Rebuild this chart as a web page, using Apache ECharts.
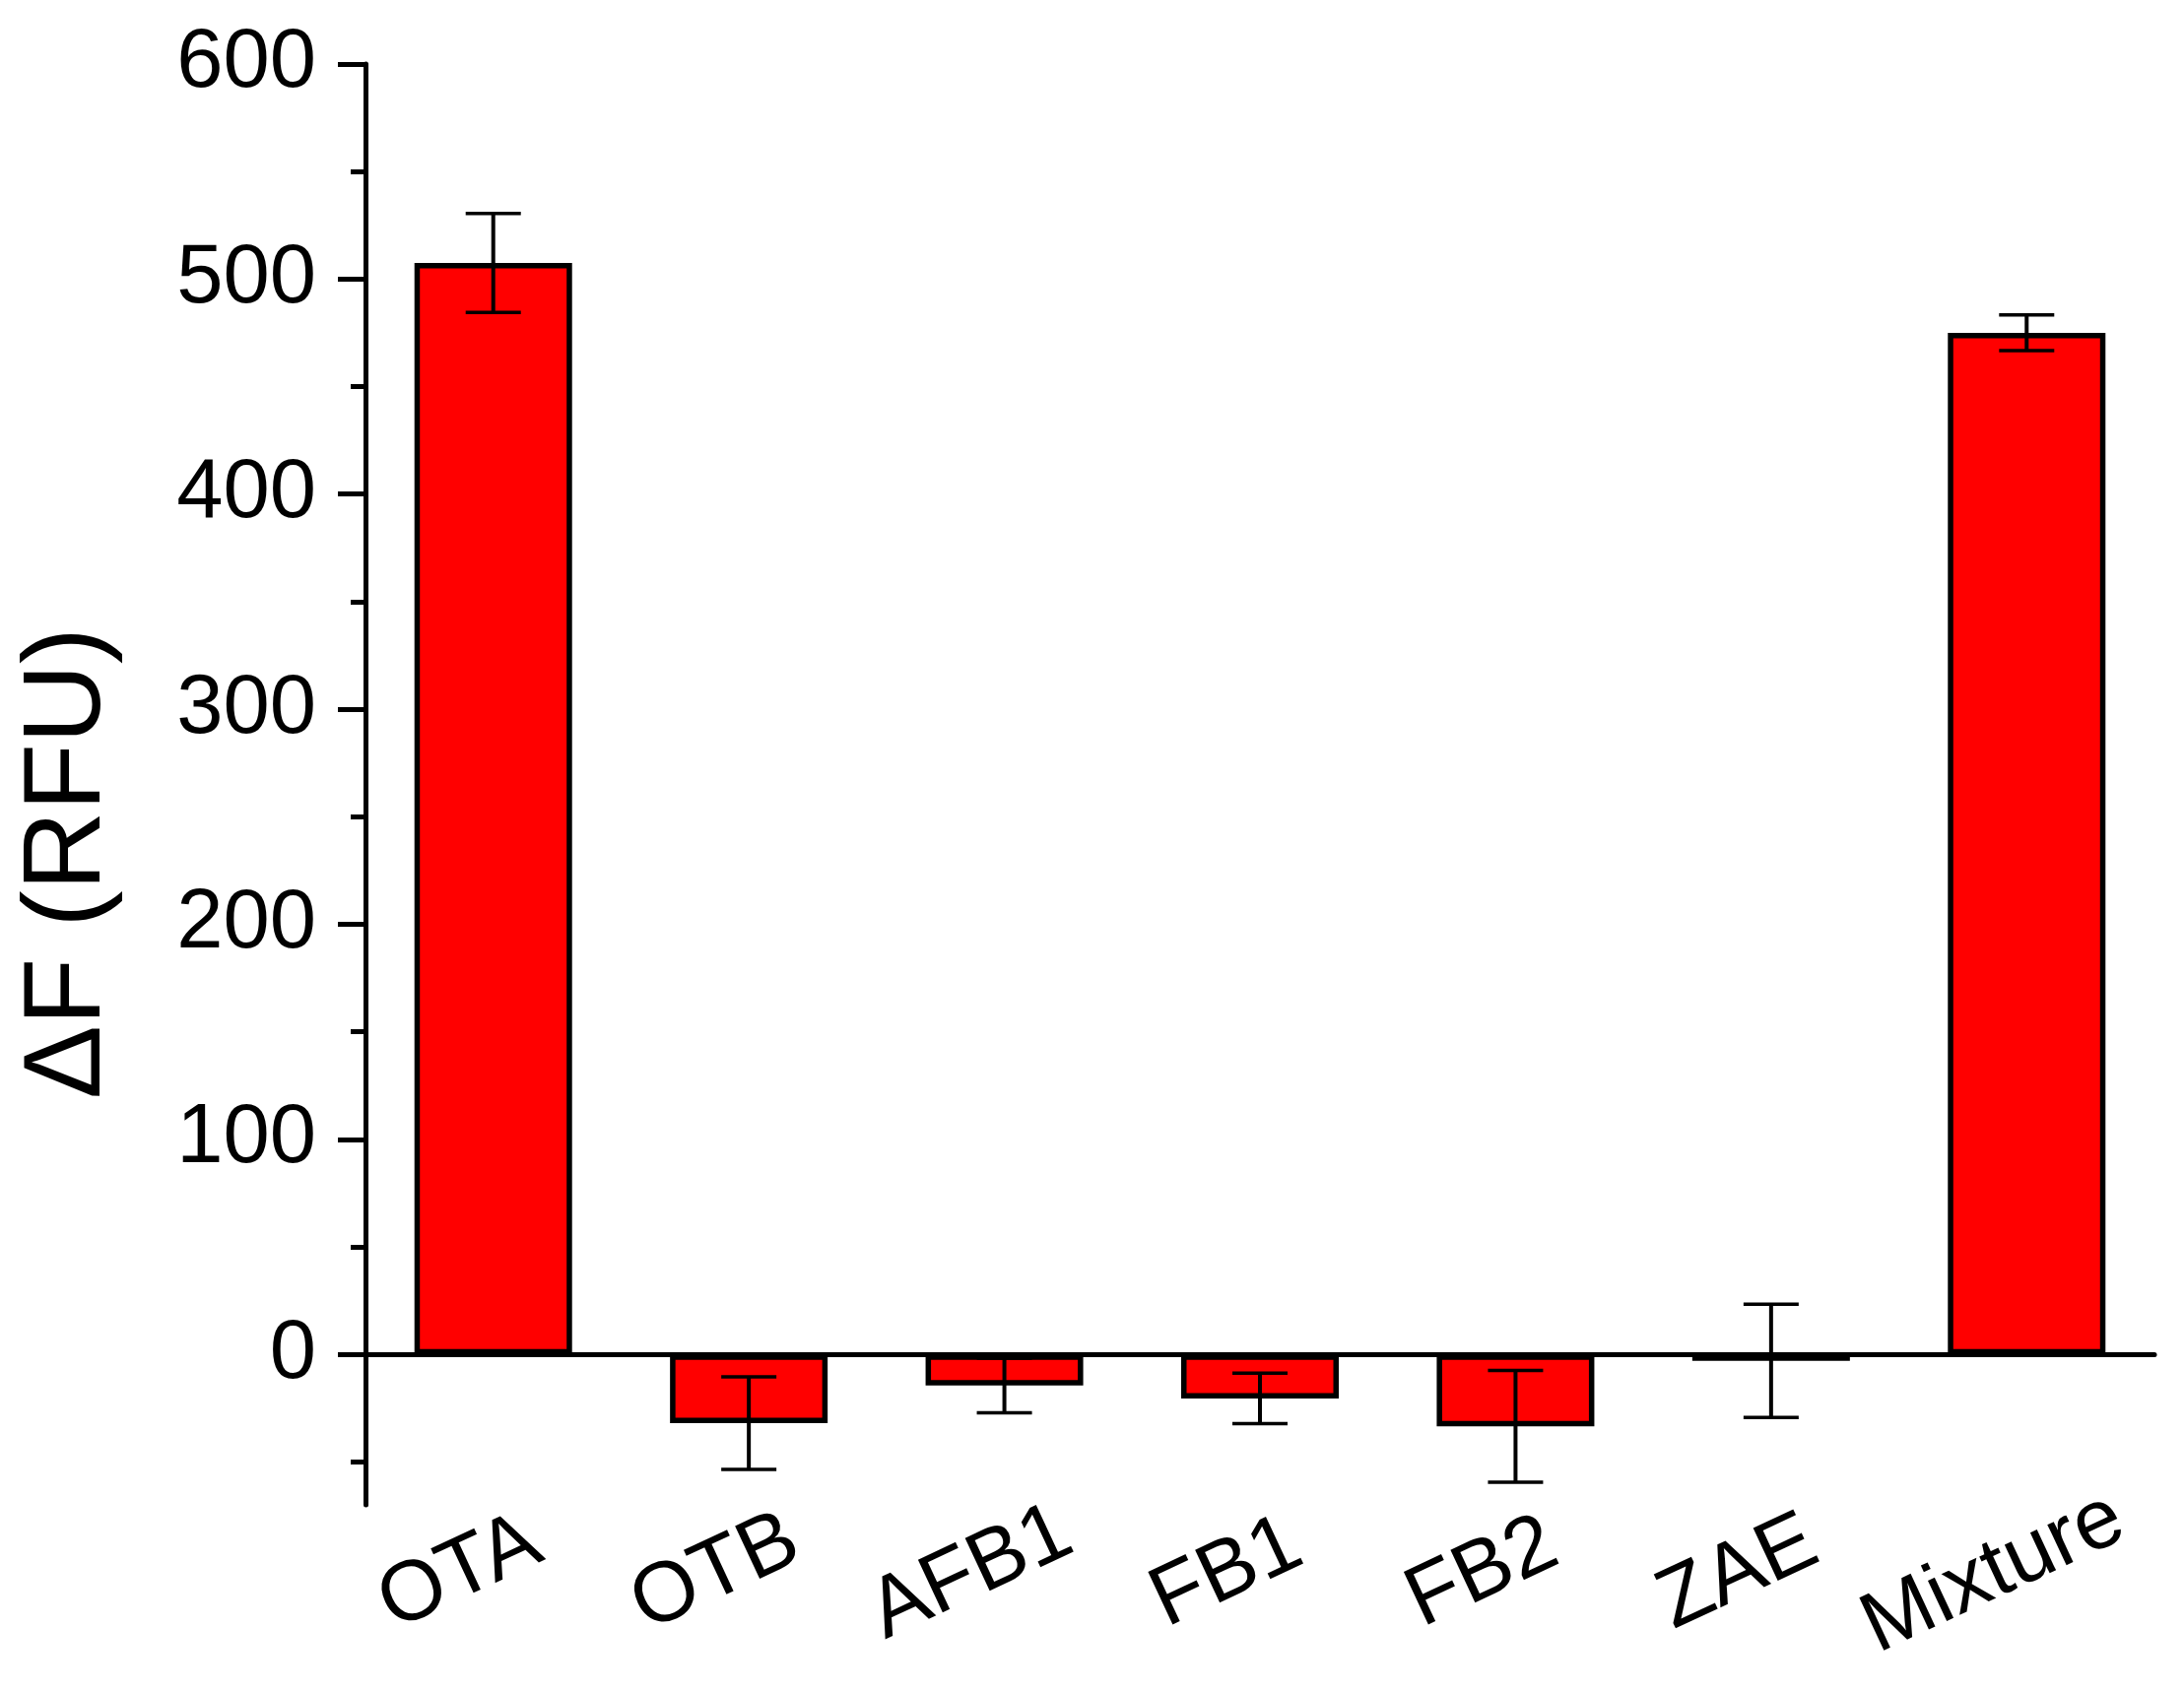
<!DOCTYPE html>
<html>
<head>
<meta charset="utf-8">
<title>ΔF bar chart</title>
<script src="https://cdn.jsdelivr.net/npm/echarts@6/dist/echarts.min.js"></script>
<style>
  html, body { margin: 0; padding: 0; background: #fff; }
  #chart { width: 2217px; height: 1718px; }
</style>
</head>
<body>
<div id="chart"></div>
<script>
const categories = ["OTA", "OTB", "AFB1", "FB1", "FB2", "ZAE", "Mixture"];
const means = [507.5, -32, -14.5, -20.5, -33.5, -3, 475];
const errors = [23, 21.5, 12.7, 11.7, 26, 26.3, 8.3];
const majorTicks = [0, 100, 200, 300, 400, 500, 600];
const minorTicks = [-50, 50, 150, 250, 350, 450, 550];

const FONT = "'Liberation Sans', Arial, sans-serif";

const chart = echarts.init(document.getElementById("chart"), null, { renderer: "canvas" });

// [category index, low, high]
const errData = categories.map((c, i) => [i, means[i] - errors[i], means[i] + errors[i]]);

function renderErr(params, api) {
  const x = api.value(0);
  const lo = api.coord([x, api.value(1)]);
  const hi = api.coord([x, api.value(2)]);
  const half = 28;
  const cap = { stroke: "#000", lineWidth: 3.5 };
  return {
    type: "group",
    children: [
      { type: "line", shape: { x1: lo[0], y1: lo[1], x2: hi[0], y2: hi[1] }, style: { stroke: "#000", lineWidth: 4 } },
      { type: "line", shape: { x1: hi[0] - half, y1: hi[1], x2: hi[0] + half, y2: hi[1] }, style: cap },
      { type: "line", shape: { x1: lo[0] - half, y1: lo[1], x2: lo[0] + half, y2: lo[1] }, style: cap }
    ]
  };
}

chart.setOption({
  animation: false,
  backgroundColor: "#fff",
  textStyle: { fontFamily: FONT },
  grid: { left: 371, right: 30, top: 65, bottom: 190 },
  xAxis: [
    {
      type: "category",
      data: categories,
      axisLine: { onZero: true, lineStyle: { color: "#000", width: 5 } },
      axisTick: { show: false },
      axisLabel: { show: false },
      splitLine: { show: false }
    },
    {
      // label-only axis placed below the plot
      type: "category",
      data: categories,
      position: "bottom",
      axisLine: { show: false, onZero: false },
      axisTick: { show: false },
      splitLine: { show: false },
      axisLabel: {
        interval: 0,
        rotate: 25,
        align: "center",
        verticalAlign: "middle",
        margin: 54,
        padding: [0, 74, 0, 0],
        color: "#000",
        fontSize: 86,
        fontFamily: FONT
      }
    }
  ],
  yAxis: [
    {
      type: "value",
      min: -70,
      max: 600,
      name: "ΔF (RFU)",
      nameLocation: "middle",
      nameGap: 245,
      nameTextStyle: { color: "#000", fontSize: 112, fontFamily: FONT, padding: [0, 160, 0, 0] },
      axisLine: { show: true, lineStyle: { color: "#000", width: 5 } },
      axisTick: { show: true, length: 28, lineStyle: { color: "#000", width: 5 }, customValues: majorTicks },
      axisLabel: { color: "#000", fontSize: 85, fontFamily: FONT, margin: 50, customValues: majorTicks },
      splitLine: { show: false }
    },
    {
      type: "value",
      min: -70,
      max: 600,
      position: "left",
      axisLine: { show: false },
      axisTick: { show: true, length: 15, lineStyle: { color: "#000", width: 5 }, customValues: minorTicks },
      axisLabel: { show: false },
      splitLine: { show: false }
    }
  ],
  series: [
    {
      type: "bar",
      data: means,
      xAxisIndex: 0,
      yAxisIndex: 0,
      barWidth: 160,
      itemStyle: { color: "#ff0000", borderColor: "#000", borderWidth: 5.5 }
    },
    {
      type: "custom",
      data: errData,
      xAxisIndex: 0,
      yAxisIndex: 0,
      renderItem: renderErr,
      z: 5
    }
  ]
});
</script>
</body>
</html>
